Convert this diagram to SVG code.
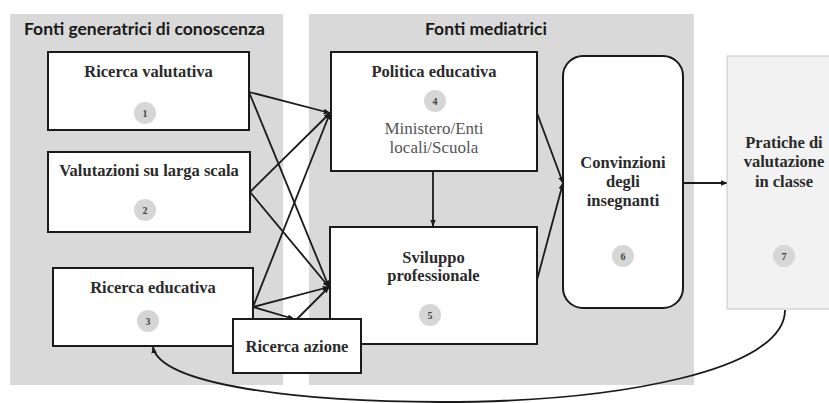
<svg xmlns="http://www.w3.org/2000/svg" width="829" height="403" viewBox="0 0 829 403">
  <style>
    .panel { fill: #d9d9d9; }
    .box { fill: #ffffff; stroke: #1a1a1a; stroke-width: 2; }
    .soft { fill: #f2f2f2; stroke: #c8c8c8; stroke-width: 1; }
    .head { font-family: Lato, "Open Sans", "Liberation Sans", sans-serif; font-weight: bold; font-size: 17.5px; fill: #1a1a1a; }
    .lbl { font-family: "Liberation Serif", "DejaVu Serif", serif; font-weight: bold; font-size: 16.5px; fill: #2a2a2a; text-anchor: middle; }
    .sub { font-family: "Liberation Serif", "DejaVu Serif", serif; font-size: 17px; fill: #555555; text-anchor: middle; }
    .badge { fill: #d6d6d6; }
    .num { font-family: "Liberation Serif", "DejaVu Serif", serif; font-weight: bold; font-size: 10px; fill: #444444; text-anchor: middle; }
    .link { fill: none; stroke: #1a1a1a; stroke-width: 1.8; }
  </style>
  <defs>
    <marker id="arrow" viewBox="0 0 10 10" refX="9" refY="5" markerWidth="7" markerHeight="7" markerUnits="userSpaceOnUse" orient="auto">
      <path d="M0,1 L10,5 L0,9 z" fill="#1a1a1a"/>
    </marker>
  </defs>

  <!-- background panels -->
  <g id="panels">
    <rect class="panel" x="10" y="14" width="273" height="371"/>
    <text class="head" x="24" y="35">Fonti generatrici di conoscenza</text>
    <rect class="panel" x="309" y="14" width="385" height="371"/>
    <text class="head" x="425" y="35">Fonti mediatrici</text>
  </g>

  <!-- connectors -->
  <g id="connectors">
    <line class="link" x1="249" y1="92" x2="330" y2="113" marker-end="url(#arrow)"/>
    <line class="link" x1="249" y1="92" x2="329" y2="287" marker-end="url(#arrow)"/>
    <line class="link" x1="250" y1="192" x2="330" y2="113" marker-end="url(#arrow)"/>
    <line class="link" x1="250" y1="192" x2="329" y2="287" marker-end="url(#arrow)"/>
    <line class="link" x1="253" y1="307" x2="330" y2="113" marker-end="url(#arrow)"/>
    <line class="link" x1="253" y1="307" x2="329" y2="287" marker-end="url(#arrow)"/>
    <line class="link" x1="253" y1="307" x2="294" y2="319" marker-end="url(#arrow)"/>
    <line class="link" x1="297" y1="319" x2="329" y2="287" marker-end="url(#arrow)"/>
    <line class="link" x1="433" y1="171" x2="433" y2="226" marker-end="url(#arrow)"/>
    <line class="link" x1="537" y1="113" x2="563" y2="183" marker-end="url(#arrow)"/>
    <line class="link" x1="537" y1="280" x2="563" y2="183" marker-end="url(#arrow)"/>
    <line class="link" x1="683" y1="183" x2="727" y2="183" marker-end="url(#arrow)"/>
    <path class="link" d="M785,310 C785,370 620,402 440,402 C300,402 160,385 153,347" marker-end="url(#arrow)"/>
  </g>

  <g id="n1">
    <rect class="box" x="48" y="52" width="201" height="78"/>
    <text class="lbl" x="148.5" y="77">Ricerca valutativa</text>
    <circle class="badge" cx="145" cy="113" r="11"/>
    <text class="num" x="145" y="116.5">1</text>
  </g>

  <g id="n2">
    <rect class="box" x="48" y="152" width="202" height="80"/>
    <text class="lbl" x="149" y="176">Valutazioni su larga scala</text>
    <circle class="badge" cx="145" cy="210" r="11"/>
    <text class="num" x="145" y="213.5">2</text>
  </g>

  <g id="n3">
    <rect class="box" x="53" y="268" width="200" height="78"/>
    <text class="lbl" x="153" y="293">Ricerca educativa</text>
    <circle class="badge" cx="148" cy="321" r="11"/>
    <text class="num" x="148" y="324.5">3</text>
  </g>

  <g id="n4">
    <rect class="box" x="331" y="52" width="206" height="119"/>
    <text class="lbl" x="434" y="77">Politica educativa</text>
    <circle class="badge" cx="435" cy="101" r="11"/>
    <text class="num" x="435" y="104.5">4</text>
    <text class="sub" x="434" y="134">Ministero/Enti</text>
    <text class="sub" x="434" y="153">locali/Scuola</text>
  </g>

  <g id="n5">
    <rect class="box" x="330" y="227" width="207" height="117"/>
    <text class="lbl" x="433.5" y="263">Sviluppo</text>
    <text class="lbl" x="433.5" y="281">professionale</text>
    <circle class="badge" cx="430" cy="315" r="11"/>
    <text class="num" x="430" y="318.5">5</text>
  </g>

  <!-- drawn after its neighbours so it sits on top of them -->
  <g id="n-azione">
    <rect class="box" x="233" y="319" width="128" height="54"/>
    <text class="lbl" x="297" y="352">Ricerca azione</text>
  </g>

  <g id="n6">
    <rect class="box" x="563" y="56" width="120" height="252" rx="20" ry="20"/>
    <text class="lbl" x="623" y="168">Convinzioni</text>
    <text class="lbl" x="623" y="187">degli</text>
    <text class="lbl" x="623" y="206">insegnanti</text>
    <circle class="badge" cx="623" cy="256" r="11"/>
    <text class="num" x="623" y="259.5">6</text>
  </g>

  <g id="n7">
    <rect class="soft" x="727" y="56" width="110" height="253"/>
    <text class="lbl" x="784" y="148">Pratiche di</text>
    <text class="lbl" x="784" y="167">valutazione</text>
    <text class="lbl" x="784" y="187">in classe</text>
    <circle class="badge" cx="784" cy="256" r="11"/>
    <text class="num" x="784" y="259.5">7</text>
  </g>
</svg>
